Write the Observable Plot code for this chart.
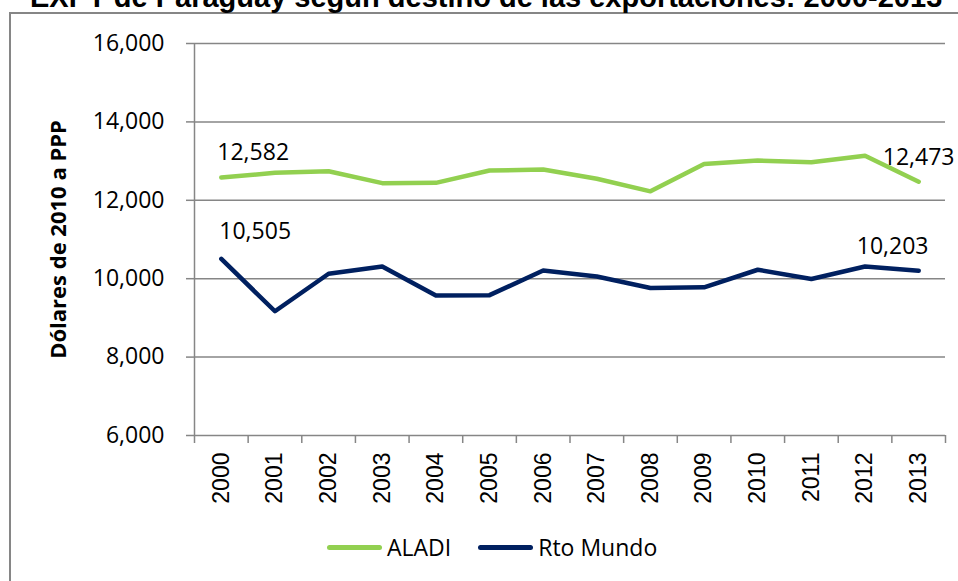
<!DOCTYPE html>
<html>
<head>
<meta charset="utf-8">
<script src="https://cdn.jsdelivr.net/npm/d3@7"></script>
<script src="https://cdn.jsdelivr.net/npm/@observablehq/plot@0.6"></script>
<style>
  html, body { margin: 0; padding: 0; background: #fff; }
  #wrap { position: relative; width: 958px; height: 581px; overflow: hidden; background: #fff; }
  #frame { position: absolute; z-index: 5; left: 9px; top: 12px; width: 960px; height: 580px; border-left: 2px solid #868686; border-top: 2px solid #868686; background: transparent; pointer-events: none; }
  #title { position: absolute; z-index: 6; left: 30px; top: -17.5px; font: bold 29px "Liberation Sans", Arial, sans-serif; line-height: 29px; white-space: nowrap; color: #000; }
  #chart { position: absolute; z-index: 1; left: 0; top: 0; }
  #legend { position: absolute; z-index: 2; top: 531px; left: 327px; display: flex; align-items: center; font: 23px "Open Sans", sans-serif; color: #000; white-space: nowrap; }
  #legend .sw { display: inline-block; width: 55px; height: 5px; border-radius: 3px; margin-right: 5px; }
  #legend .item { display: flex; align-items: center; margin-right: 27px; }
</style>
</head>
<body>
<div id="wrap">
  <div id="chart"></div>
  <div id="legend"></div>
  <div id="frame"></div>
  <div id="title">EXPT de Paraguay según destino de las exportaciones: 2000-2013</div>
</div>
<script>
const years = [2000, 2001, 2002, 2003, 2004, 2005, 2006, 2007, 2008, 2009, 2010, 2011, 2012, 2013];
const aladi = [12582, 12700, 12742, 12438, 12445, 12760, 12785, 12550, 12228, 12928, 13013, 12970, 13139, 12473];
const rtoMundo = [10505, 9170, 10127, 10311, 9570, 9580, 10210, 10058, 9764, 9780, 10228, 9992, 10311, 10203];
const seriesNames = ["ALADI", "Rto Mundo"];
const seriesColors = ["#92D050", "#002060"];
const yTicks = [6000, 8000, 10000, 12000, 14000, 16000];
const yTitle = "Dólares de 2010 a PPP";

const rows = [
  ...years.map((year, i) => ({year, value: aladi[i], series: seriesNames[0]})),
  ...years.map((year, i) => ({year, value: rtoMundo[i], series: seriesNames[1]}))
];
const boundaries = [...years.map(y => y - 0.5), years[years.length - 1] + 0.5];
const fmt = d3.format(",");
const aFirst = rows.filter(d => d.series === "ALADI" && d.year === years[0]);
const aLast = rows.filter(d => d.series === "ALADI" && d.year === years[years.length - 1]);
const rFirst = rows.filter(d => d.series === "Rto Mundo" && d.year === years[0]);
const rLast = rows.filter(d => d.series === "Rto Mundo" && d.year === years[years.length - 1]);
const grid = "#868686";
const numFont = "'Open Sans', sans-serif";

const chart = Plot.plot({
  width: 958,
  height: 520,
  marginLeft: 194,
  marginRight: 13,
  marginTop: 43,
  marginBottom: 85,
  style: {background: "transparent", color: "#000", overflow: "visible"},
  x: {domain: [boundaries[0], boundaries[boundaries.length - 1]]},
  y: {domain: [yTicks[0], yTicks[yTicks.length - 1]]},
  color: {domain: seriesNames, range: seriesColors},
  marks: [
    Plot.gridY(yTicks, {stroke: grid, strokeOpacity: 1, strokeWidth: 1.5}),
    Plot.ruleX([boundaries[0]], {stroke: grid, strokeWidth: 1.5}),
    Plot.axisY(yTicks, {tickSize: 8, tickPadding: 22, tickFormat: fmt, fontSize: 23, fontFamily: numFont, stroke: grid, strokeWidth: 1.5, label: null}),
    Plot.axisX(boundaries, {tickSize: 8, tickFormat: () => "", stroke: grid, strokeWidth: 1.5, label: null}),
    Plot.axisX(years, {tickSize: 0, tickPadding: 17, tickRotate: -90, tickFormat: d => String(d), fontSize: 23, fontFamily: "'Liberation Sans', Arial, sans-serif", label: null}),
    Plot.text([yTitle], {text: d => d, frameAnchor: "left", textAnchor: "middle", lineAnchor: "middle", rotate: -90, dx: -136, fontSize: 22, fontWeight: "bold", fontFamily: numFont, fill: "#000"}),
    Plot.line(rows, {x: "year", y: "value", z: "series", stroke: "series", strokeWidth: 4.5, strokeLinejoin: "round", strokeLinecap: "round"}),
    Plot.text(aFirst, {x: "year", y: "value", text: d => fmt(d.value), textAnchor: "start", dx: -4, dy: -25, fontSize: 23, fontFamily: numFont, fill: "#000"}),
    Plot.text(rFirst, {x: "year", y: "value", text: d => fmt(d.value), textAnchor: "start", dx: -2, dy: -27, fontSize: 23, fontFamily: numFont, fill: "#000"}),
    Plot.text(aLast, {x: "year", y: "value", text: d => fmt(d.value), textAnchor: "middle", dx: 0, dy: -24, fontSize: 23, fontFamily: numFont, fill: "#000"}),
    Plot.text(rLast, {x: "year", y: "value", text: d => fmt(d.value), textAnchor: "middle", dx: -26, dy: -24, fontSize: 23, fontFamily: numFont, fill: "#000"})
  ]
});
document.getElementById("chart").appendChild(chart);

const legend = document.getElementById("legend");
seriesNames.forEach((name, i) => {
  const item = document.createElement("div");
  item.className = "item";
  const sw = document.createElement("span");
  sw.className = "sw";
  sw.style.background = seriesColors[i];
  const lab = document.createElement("span");
  lab.textContent = name;
  item.appendChild(sw);
  item.appendChild(lab);
  legend.appendChild(item);
});
</script>
</body>
</html>
